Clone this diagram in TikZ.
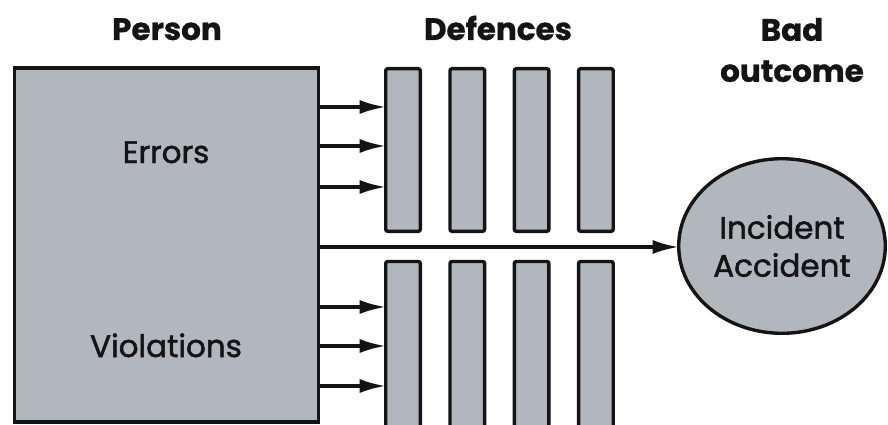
\documentclass[tikz,border=0pt]{standalone}
\usepackage{fontspec}
\setmainfont{Poppins}
\newfontfamily\bodyfont{Poppins}[FakeBold=1.6]
\newfontfamily\headfont{Poppins}[UprightFont=* Bold, FakeBold=0.8]
\usetikzlibrary{arrows.meta,shapes.geometric}
\definecolor{boxfill}{RGB}{178,182,189}
\definecolor{ink}{RGB}{20,20,20}
\tikzset{
  shape box/.style={draw=ink, fill=boxfill, line width=3.4pt, inner sep=0pt, outer sep=0pt},
  bigbox/.style={shape box, minimum width=303.6pt, minimum height=353.6pt},
  barbox/.style={shape box, rounded corners=2pt, minimum width=34.6pt},
  outcomebox/.style={shape box, ellipse, minimum width=206.6pt, minimum height=174.6pt, align=center, font=\bodyfont\fontsize{31}{42}\selectfont, text=ink},
  heading/.style={font=\headfont\fontsize{31}{43}\selectfont, text=ink, align=center, inner sep=0pt},
  label/.style={font=\bodyfont\fontsize{31}{42}\selectfont, text=ink, inner sep=0pt},
  arr/.style={draw=ink, line width=3.2pt, -{Latex[length=26pt,width=14pt]}}
}
\begin{document}
\begin{tikzpicture}[x=1pt,y=-1pt]
\useasboundingbox[fill=white] (0,0) rectangle (888,425);
% person box
\node[bigbox] (person) at (166.5,245) {};
% defence bars
\foreach \i/\x in {1/403,2/467.3,3/531.6,4/595.9}{
  \node[barbox, minimum height=162.6pt] (u\i) at (\x,150) {};
  \node[barbox, minimum height=170pt] (l\i) at (\x,346.5) {};
}
% outcome
\node[outcomebox] (out) at (782,246) {Incident\\[-4pt]Accident};
% headings
\node[heading, anchor=base] (hperson) at (167,40) {Person};
\node[heading, anchor=base] (hdef) at (498,40) {Defences};
\node[heading] (hbad) at (792,50) {Bad\\[-2pt]outcome};
% labels
\node[label, anchor=base] (err) at (166,163) {Errors};
\node[label, anchor=base] (vio) at (166,357) {Violations};
% arrows
\foreach \y [count=\k] in {107,146,187}{
  \coordinate (ea\k) at (person.east |- 0,\y);
  \draw[arr] (ea\k) -- (u1.west |- ea\k);
}
\foreach \y [count=\k] in {307,346,386}{
  \coordinate (eb\k) at (person.east |- 0,\y);
  \draw[arr] (eb\k) -- (l1.west |- eb\k);
}
\coordinate (em) at (person.east |- 0,247);
\draw[arr] (em) -- (out.west |- em);
\end{tikzpicture}
\end{document}
